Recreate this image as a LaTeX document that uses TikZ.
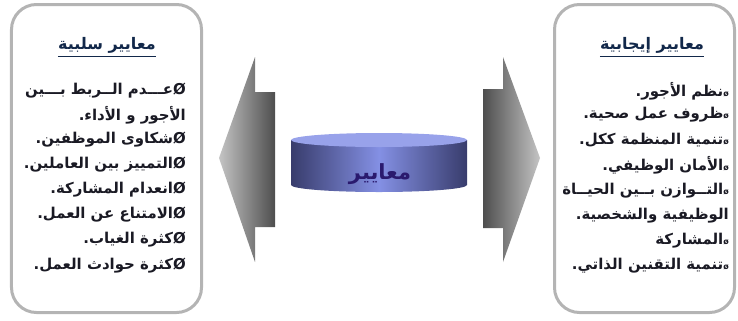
\documentclass[tikz,border=0pt]{standalone}
\usepackage{fontspec}
\TeXXeTstate=1
\newfontfamily\arabicfont[Script=Arabic]{DejaVu Sans}
\newfontfamily\symfont{DejaVu Sans}
\definecolor{panelgray}{HTML}{B4B4B4}
\definecolor{navy}{HTML}{12284A}
\definecolor{itemcol}{HTML}{1A1A24}
\definecolor{arrdark}{HTML}{4E4E4E}
\definecolor{arrlight}{HTML}{C4C4C4}
\definecolor{cyledge}{HTML}{383C6C}
\definecolor{cylmid}{HTML}{8490E4}
\definecolor{cyltop}{HTML}{98A2EA}
\definecolor{cyltext}{HTML}{2A1A6E}
\newcommand{\bigO}{\hbox{\symfont\bfseries Ø}}
\newcommand{\smallO}{\hbox{\symfont\bfseries\fontsize{8}{9}\selectfont ø}}
\begin{document}
\begin{tikzpicture}[x=1bp,y=-1bp,
  panel/.style={draw=panelgray, line width=3bp, rounded corners=25bp, fill=white},
  item/.style={anchor=east, inner sep=0pt, text=itemcol,
    font=\arabicfont\bfseries\fontsize{15}{17}\selectfont},
  ttl/.style={inner sep=0pt, text=navy,
    font=\arabicfont\bfseries\fontsize{16}{18}\selectfont},
  uline/.style={draw=navy, line width=1.4bp}]
\useasboundingbox (0,0) rectangle (738,320);
% panels
\node[panel, minimum width=190bp, minimum height=308bp] (lbox) at (106.5,158.5) {};
\node[panel, minimum width=180bp, minimum height=308bp] (rbox) at (644.5,158.5) {};
% arrows
\shade[left color=arrlight, right color=arrdark]
  (219,158) -- (255,57) -- (255,92) -- (275,92) -- (275,227) -- (255,227) -- (255,262) -- cycle;
\shade[left color=arrdark, right color=arrlight]
  (483,89) -- (503,89) -- (503,57) -- (540,158) -- (503,262) -- (503,228) -- (483,228) -- cycle;
% cylinder
\shade[left color=cyledge, right color=cyledge, middle color=cylmid]
  (291,140) -- (291,185) arc[start angle=180, end angle=0, x radius=88, y radius=7] -- (467,140) -- cycle;
\fill[cyltop] (379,140) ellipse [x radius=88, y radius=7];
\node[inner sep=0pt, text=cyltext, font=\arabicfont\bfseries\fontsize{21}{23}\selectfont] (cyl) at (380,174) {\beginR معايير\endR};
% titles
\node[ttl] (ltitle) at (107,45) {\beginR معايير سلبية\endR};
\draw[uline] ([yshift=-3bp]ltitle.south west) -- ([yshift=-3bp]ltitle.south east);
\node[ttl] (rtitle) at (652,45) {\beginR معايير إيجابية\endR};
\draw[uline] ([yshift=-3bp]rtitle.south west) -- ([yshift=-3bp]rtitle.south east);
% left items
\node[item] (l1) at (186,91) {\beginR \bigO عـــدم الــربط بـــين\endR};
\node[item] (l2) at (186,115) {\beginR الأجور و الأداء.\endR};
\node[item] (l3) at (186,140) {\beginR \bigO شكاوى الموظفين.\endR};
\node[item] (l4) at (186,165) {\beginR \bigO التمييز بين العاملين.\endR};
\node[item] (l5) at (186,190) {\beginR \bigO انعدام المشاركة.\endR};
\node[item] (l6) at (186,215) {\beginR \bigO الامتناع عن العمل.\endR};
\node[item] (l7) at (186,240) {\beginR \bigO كثرة الغياب.\endR};
\node[item] (l8) at (186,266) {\beginR \bigO كثرة حوادث العمل.\endR};
% right items
\node[item] (r1) at (729,91) {\beginR \smallO نظم الأجور.\endR};
\node[item] (r2) at (729,115) {\beginR \smallO ظروف عمل صحية.\endR};
\node[item] (r3) at (729,140) {\beginR \smallO تنمية المنظمة ككل.\endR};
\node[item] (r4) at (729,165) {\beginR \smallO الأمان الوظيفي.\endR};
\node[item] (r5) at (729,191) {\beginR \smallO التــوازن بــين الحيــاة\endR};
\node[item] (r6) at (729,216) {\beginR الوظيفية والشخصية.\endR};
\node[item] (r7) at (729,241) {\beginR \smallO المشاركة\endR};
\node[item] (r8) at (729,266) {\beginR \smallO تنمية التقنين الذاتي.\endR};
\end{tikzpicture}
\end{document}
